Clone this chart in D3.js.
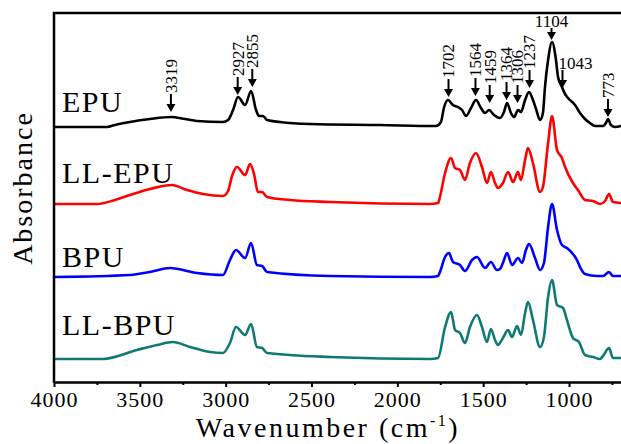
<!DOCTYPE html>
<html>
<head>
<meta charset="utf-8">
<script src="https://cdn.jsdelivr.net/npm/d3@7"></script>
<style>
  html, body { margin: 0; padding: 0; background: #fff; }
  svg { display: block; }
  text { font-family: "Liberation Serif", "Times New Roman", serif; fill: #000; }
</style>
</head>
<body>
<svg id="chart" width="621" height="444"></svg>
<script>
// ---------------- DATA ----------------
const seriesNames = ["EPU", "LL-EPU", "BPU", "LL-BPU"];
const seriesColors = ["#000000", "#ff0000", "#0000ff", "#0e7a73"];
const seriesOffsets = [2.55, 1.78, 1.05, 0.23];   // vertical stacking offsets (a.u.)
const labelLevels = [2.70, 1.99, 1.15, 0.47];     // series label baselines (a.u.)

const epuWave = [3994,3691,3645,3557,3441,3318,3237,3167,3016,2986,2957,2928,2887,2852,2823,2806,2783,2759,2684,2509,2101,1775,1746,1729,1705,1676,1647,1623,1600,1571,1542,1513,1489,1466,1437,1402,1379,1361,1338,1320,1297,1280,1256,1233,1210,1192,1169,1152,1140,1122,1099,1076,1064,1041,1023,1006,965,936,907,878,849,802,785,773,756,732,697];
const epuAbs  = [0,0,0.02,0.05,0.08,0.10,0.08,0.06,0.05,0.07,0.17,0.30,0.22,0.36,0.17,0.11,0.11,0.07,0.05,0.03,0.02,0.01,0.05,0.19,0.27,0.22,0.20,0.17,0.11,0.19,0.27,0.19,0.14,0.17,0.12,0.09,0.15,0.24,0.14,0.10,0.17,0.15,0.27,0.35,0.27,0.18,0.07,0.14,0.40,0.67,0.85,0.67,0.50,0.40,0.33,0.29,0.22,0.14,0.08,0.04,0.01,0.01,0.04,0.08,0.02,0,0.01];

const llepuWave = [3994,3750,3645,3557,3441,3313,3225,3132,3016,2986,2963,2934,2887,2858,2835,2812,2788,2759,2625,2392,1810,1763,1752,1722,1687,1664,1635,1606,1577,1542,1507,1478,1455,1431,1414,1385,1355,1326,1297,1280,1256,1239,1210,1169,1152,1122,1099,1070,1041,1023,977,948,907,860,820,790,767,744,697];
const llepuAbs  = [0,0,0.04,0.09,0.15,0.19,0.14,0.10,0.08,0.13,0.28,0.37,0.29,0.40,0.30,0.12,0.12,0.07,0.04,0.02,0,0.01,0.07,0.31,0.46,0.36,0.34,0.24,0.41,0.51,0.37,0.21,0.32,0.21,0.16,0.21,0.32,0.22,0.32,0.24,0.44,0.56,0.41,0.12,0.17,0.61,0.88,0.54,0.46,0.37,0.21,0.14,0.04,0.03,0,0.03,0.10,0.02,0.01];

const bpuWave = [3994,3557,3441,3324,3167,3016,2975,2940,2887,2852,2818,2788,2759,2392,1810,1763,1752,1722,1699,1676,1635,1606,1565,1536,1489,1455,1420,1402,1385,1361,1332,1297,1274,1251,1233,1198,1169,1146,1122,1099,1070,1041,1012,954,936,907,837,802,767,744,697];
const bpuAbs  = [0,0.02,0.05,0.09,0.04,0.02,0.17,0.27,0.19,0.34,0.12,0.11,0.05,0.01,0,0.01,0.05,0.20,0.24,0.15,0.12,0.06,0.17,0.20,0.09,0.15,0.07,0.08,0.14,0.24,0.12,0.19,0.14,0.27,0.33,0.19,0.07,0.14,0.50,0.73,0.47,0.32,0.29,0.17,0.10,0.03,0.01,0.01,0.05,0.01,0.01];

const llbpuWave = [3994,3715,3517,3400,3307,3208,3091,3016,2975,2940,2887,2852,2818,2788,2759,2392,1810,1763,1722,1687,1664,1635,1606,1577,1536,1507,1478,1455,1431,1414,1385,1355,1332,1303,1280,1256,1239,1210,1169,1146,1122,1099,1070,1035,1012,977,942,907,860,820,802,767,744,697];
const llbpuAbs  = [0,0,0.09,0.14,0.17,0.12,0.07,0.06,0.16,0.32,0.24,0.35,0.12,0.11,0.06,0.02,0,0.01,0.32,0.47,0.29,0.26,0.16,0.32,0.44,0.32,0.17,0.30,0.19,0.14,0.21,0.29,0.22,0.33,0.24,0.46,0.57,0.39,0.12,0.22,0.62,0.79,0.54,0.51,0.39,0.21,0.17,0.04,0.02,0,0.03,0.11,0.01,0.01];

const seriesWaves = [epuWave, llepuWave, bpuWave, llbpuWave];
const seriesAbs = [epuAbs, llepuAbs, bpuAbs, llbpuAbs];

// peak annotations (on EPU)
const annLabels = ["3319","2927","2855","1702","1564","1459","1364","1306","1237","1104","1043","773"];
const annPos    = [3319, 2930, 2845, 1702, 1545, 1462, 1364, 1300, 1230, 1102, 1038, 773];
const annTip    = [2.70, 2.87, 2.95, 2.85, 2.86, 2.79, 2.82, 2.79, 2.94, 3.42, 2.94, 2.65];
const annHoriz  = [false,false,false,false,false,false,false,false,false,true,true,false];

const xMajorTicks = [4000,3500,3000,2500,2000,1500,1000];
const xMinorTicks = [3750,3250,2750,2250,1750,1250,750];

// ---------------- CHART ----------------
const svg = d3.select("#chart");
const mLeft = 54, mTop = 13, mBottom = 382, mRight = 621;

const x = d3.scaleLinear().domain([4000, 700]).range([mLeft, mLeft + 3300 / 5.825]);
const y = d3.scaleLinear().domain([0, 3.69]).range([mBottom, mTop]);

svg.append("defs").append("clipPath").attr("id", "clip")
  .append("rect").attr("x", mLeft).attr("y", mTop).attr("width", mRight - mLeft).attr("height", mBottom - mTop);

const plot = svg.append("g").attr("clip-path", "url(#clip)");

seriesNames.forEach((name, i) => {
  const pts = seriesWaves[i].map((w, j) => [w, seriesAbs[i][j]]);
  const line = d3.line()
    .x(d => x(d[0]))
    .y(d => y(d[1] + seriesOffsets[i]))
    .curve(d3.curveMonotoneX);
  plot.append("path")
    .datum(pts)
    .attr("d", line)
    .attr("fill", "none")
    .attr("stroke", seriesColors[i])
    .attr("stroke-width", 2.6)
    .attr("stroke-linejoin", "round");
  svg.append("text")
    .attr("x", mLeft + 8)
    .attr("y", y(labelLevels[i]))
    .attr("font-size", 30)
    .attr("letter-spacing", 1.5)
    .text(name);
});

// annotations
const ann = svg.append("g");
annLabels.forEach((lab, i) => {
  const ax = x(annPos[i]);
  const tipY = y(annTip[i]);
  const len = lab === "1104" ? 12 : 18;
  const topY = tipY - len;
  ann.append("line")
    .attr("x1", ax).attr("x2", ax)
    .attr("y1", topY).attr("y2", tipY - 6)
    .attr("stroke", "#000").attr("stroke-width", 2);
  ann.append("path")
    .attr("d", `M${ax - 4.5},${tipY - 8} L${ax + 4.5},${tipY - 8} L${ax},${tipY} Z`)
    .attr("fill", "#000");
  if (annHoriz[i]) {
    ann.append("text")
      .attr("x", lab === "1104" ? ax : ax - 4)
      .attr("y", topY - 1)
      .attr("text-anchor", lab === "1104" ? "middle" : "start")
      .attr("font-size", 17)
      .text(lab);
  } else {
    ann.append("text")
      .attr("transform", `translate(${ax},${topY - 1}) rotate(-90)`)
      .attr("dy", "0.35em")
      .attr("text-anchor", "start")
      .attr("font-size", 17)
      .text(lab);
  }
});

// axes
const xAxis = d3.axisBottom(x).tickValues(xMajorTicks).tickSize(5).tickSizeOuter(0).tickPadding(4)
  .tickFormat(d3.format("d"));
const gx = svg.append("g").attr("transform", `translate(0,${mBottom})`).call(xAxis);
gx.select(".domain").attr("stroke", "#000").attr("stroke-width", 2.5);
gx.selectAll(".tick line").attr("stroke", "#000").attr("stroke-width", 2);
gx.selectAll(".tick text")
  .attr("font-family", "'Liberation Serif', 'Times New Roman', serif")
  .attr("font-size", 22).attr("letter-spacing", 1).attr("fill", "#000");

const xMinor = d3.axisBottom(x).tickValues(xMinorTicks).tickSize(3).tickSizeOuter(0).tickFormat("");
const gxm = svg.append("g").attr("transform", `translate(0,${mBottom})`).call(xMinor);
gxm.select(".domain").remove();
gxm.selectAll(".tick line").attr("stroke", "#000").attr("stroke-width", 2);

// left axis line & top frame line
svg.append("line").attr("x1", mLeft).attr("x2", mLeft).attr("y1", mTop - 1).attr("y2", mBottom + 1)
  .attr("stroke", "#000").attr("stroke-width", 2.5);
svg.append("line").attr("x1", mLeft - 1).attr("x2", mRight).attr("y1", mTop).attr("y2", mTop)
  .attr("stroke", "#000").attr("stroke-width", 2.5);

// axis titles
const xt = svg.append("text")
  .attr("x", 328).attr("y", 437)
  .attr("text-anchor", "middle")
  .attr("font-size", 28)
  .attr("letter-spacing", 2.5);
xt.append("tspan").text("Wavenumber (cm");
xt.append("tspan").attr("font-size", 16).attr("dy", -11).text("-1");
xt.append("tspan").attr("dy", 11).text(")");

svg.append("text")
  .attr("transform", "translate(32,188) rotate(-90)")
  .attr("text-anchor", "middle")
  .attr("font-size", 28)
  .attr("letter-spacing", 2)
  .text("Absorbance");
</script>
</body>
</html>
